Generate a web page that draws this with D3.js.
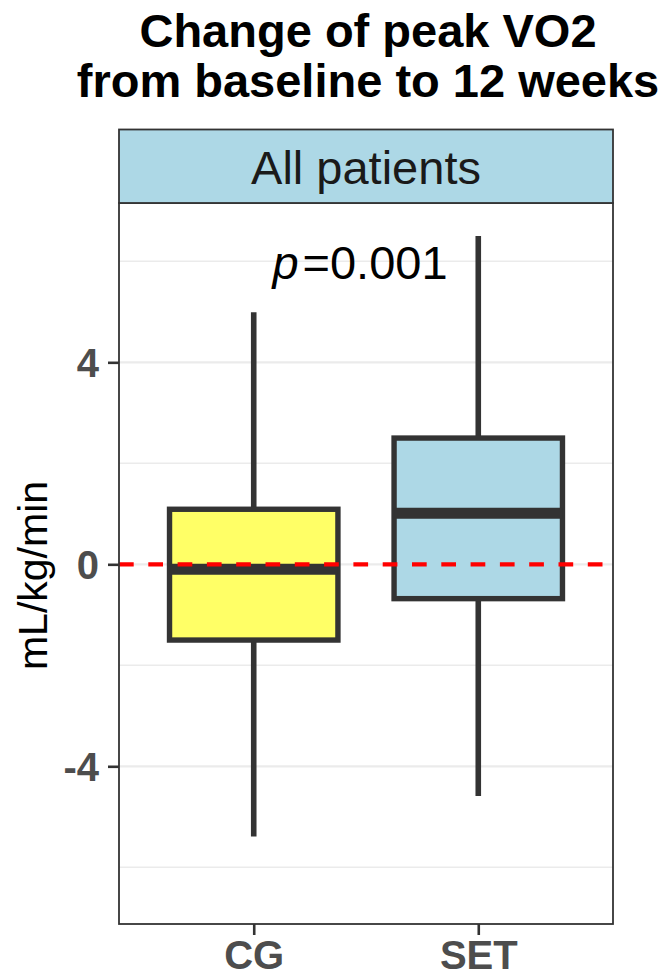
<!DOCTYPE html>
<html>
<head>
<meta charset="utf-8">
<script src="https://cdn.jsdelivr.net/npm/d3@7"></script>
<style>
  html, body { margin: 0; padding: 0; background: #fff; }
  svg { display: block; }
  text { font-family: "Liberation Sans", Arial, sans-serif; }
</style>
</head>
<body>
<svg id="chart" width="666" height="976"></svg>
<script>
// ---- data ----
const categories = ["CG", "SET"];
const whiskerLow  = [-5.39, -4.59];
const q1          = [-1.50, -0.68];
const medians     = [-0.10,  1.01];
const q3          = [ 1.09,  2.50];
const whiskerHigh = [ 4.99,  6.50];
const fills       = ["#FFFF66", "#ADD8E6"];
const majorTicks  = [-4, 0, 4];
const minorTicks  = [-6, -2, 2, 6];
const titleLines  = ["Change of peak VO2", "from baseline to 12 weeks"];
const stripLabel  = "All patients";
const yLabel      = "mL/kg/min";
const pValue      = "0.001";

// ---- layout ----
const svg = d3.select("#chart");
const panel = { left: 119, right: 613, top: 203, bottom: 924 };
const stripTop = 129.5;

const y = d3.scaleLinear()
  .domain([-7.123, 7.155])
  .range([panel.bottom, panel.top]);
const x = d3.scalePoint()
  .domain(categories)
  .range([panel.left, panel.right])
  .padding(0.6);
const boxW = x.step() * 0.75;

// title
svg.append("g").selectAll("text").data(titleLines).join("text")
  .attr("x", 368)
  .attr("y", (d, i) => 47 + i * 50)
  .attr("text-anchor", "middle")
  .attr("font-size", 47)
  .attr("font-weight", "bold")
  .attr("fill", "#000")
  .text(d => d);

// grid
const g = svg.append("g");
g.selectAll("line.minor").data(minorTicks).join("line")
  .attr("class", "minor")
  .attr("x1", panel.left).attr("x2", panel.right)
  .attr("y1", d => y(d)).attr("y2", d => y(d))
  .attr("stroke", "#EBEBEB").attr("stroke-width", 1.6);
g.selectAll("line.major").data(majorTicks).join("line")
  .attr("class", "major")
  .attr("x1", panel.left).attr("x2", panel.right)
  .attr("y1", d => y(d)).attr("y2", d => y(d))
  .attr("stroke", "#EBEBEB").attr("stroke-width", 2.2);

// boxes
const data = categories.map((c, i) => ({
  c, lo: whiskerLow[i], q1: q1[i], med: medians[i], q3: q3[i], hi: whiskerHigh[i], fill: fills[i]
}));
const bx = svg.append("g").selectAll("g").data(data).join("g");
bx.append("line")
  .attr("x1", d => x(d.c)).attr("x2", d => x(d.c))
  .attr("y1", d => y(d.hi)).attr("y2", d => y(d.q3))
  .attr("stroke", "#333333").attr("stroke-width", 5.6);
bx.append("line")
  .attr("x1", d => x(d.c)).attr("x2", d => x(d.c))
  .attr("y1", d => y(d.q1)).attr("y2", d => y(d.lo))
  .attr("stroke", "#333333").attr("stroke-width", 5.6);
bx.append("rect")
  .attr("x", d => x(d.c) - boxW / 2)
  .attr("width", boxW)
  .attr("y", d => y(d.q3))
  .attr("height", d => y(d.q1) - y(d.q3))
  .attr("fill", d => d.fill)
  .attr("stroke", "#333333").attr("stroke-width", 5.4);
bx.append("line")
  .attr("x1", d => x(d.c) - boxW / 2).attr("x2", d => x(d.c) + boxW / 2)
  .attr("y1", d => y(d.med)).attr("y2", d => y(d.med))
  .attr("stroke", "#333333").attr("stroke-width", 11);

// reference dashed line at 0
svg.append("line")
  .attr("x1", panel.left).attr("x2", panel.right)
  .attr("y1", y(0)).attr("y2", y(0))
  .attr("stroke", "#FF0000").attr("stroke-width", 4.3)
  .attr("stroke-dasharray", "14.7,14.6");

// p value annotation
const pt = svg.append("text")
  .attr("x", (x("CG") + x("SET")) / 2 - 6)
  .attr("y", 279)
  .attr("text-anchor", "middle")
  .attr("font-size", 47)
  .attr("fill", "#000");
pt.append("tspan").attr("font-style", "italic").text("p");
pt.append("tspan").attr("dx", 4).text("=" + pValue);

// panel border
svg.append("rect")
  .attr("x", panel.left).attr("y", panel.top)
  .attr("width", panel.right - panel.left).attr("height", panel.bottom - panel.top)
  .attr("fill", "none").attr("stroke", "#333333").attr("stroke-width", 1.8);

// strip
svg.append("rect")
  .attr("x", panel.left).attr("y", stripTop)
  .attr("width", panel.right - panel.left).attr("height", panel.top - stripTop)
  .attr("fill", "#ADD8E6").attr("stroke", "#333333").attr("stroke-width", 1.8);
svg.append("text")
  .attr("x", (panel.left + panel.right) / 2)
  .attr("y", 184)
  .attr("text-anchor", "middle")
  .attr("font-size", 47)
  .attr("fill", "#1A1A1A")
  .text(stripLabel);

// y axis
const yAxis = d3.axisLeft(y).tickValues(majorTicks).tickSize(11).tickPadding(9)
  .tickFormat(d => String(d));
const ya = svg.append("g").attr("transform", `translate(${panel.left},0)`).call(yAxis);
ya.select(".domain").remove();
ya.selectAll(".tick line").attr("stroke", "#333333").attr("stroke-width", 2.6);
ya.selectAll(".tick text")
  .attr("font-size", 40).attr("font-weight", "bold").attr("fill", "#4D4D4D")
  .attr("font-family", "Liberation Sans, Arial, sans-serif")
  .attr("dy", "0.36em");

// x axis
const xAxis = d3.axisBottom(x).tickSize(11).tickPadding(8);
const xa = svg.append("g").attr("transform", `translate(0,${panel.bottom})`).call(xAxis);
xa.select(".domain").remove();
xa.selectAll(".tick line").attr("stroke", "#333333").attr("stroke-width", 2.6);
xa.selectAll(".tick text")
  .attr("font-size", 40).attr("font-weight", "bold").attr("fill", "#4D4D4D")
  .attr("font-family", "Liberation Sans, Arial, sans-serif")
  .attr("dy", null)
  .attr("y", 45);

// y label
svg.append("text")
  .attr("transform", `translate(47,${(panel.top + panel.bottom) / 2 + 12}) rotate(-90)`)
  .attr("text-anchor", "middle")
  .attr("font-size", 41)
  .attr("fill", "#000")
  .text(yLabel);
</script>
</body>
</html>
